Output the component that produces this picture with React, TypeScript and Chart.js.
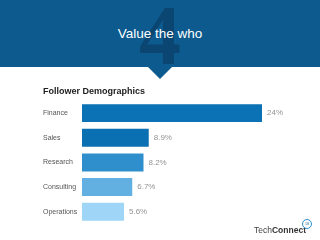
import React, { useEffect, useRef } from "react";
import { Chart, registerables } from "chart.js";

Chart.register(...registerables);

const categories = ["Finance", "Sales", "Research", "Consulting", "Operations"];
const values = [24, 8.9, 8.2, 6.7, 5.6];
const valueLabels = ["24%", "8.9%", "8.2%", "6.7%", "5.6%"];
const barColors = ["#0a72b5", "#0a70b2", "#2f8fcc", "#62b0e2", "#9fd5f6"];

const FONT = "'Liberation Sans', Arial, sans-serif";

const valueLabelPlugin = {
  id: "valueLabels",
  afterDatasetsDraw(chart: any) {
    const ctx = chart.ctx;
    const meta = chart.getDatasetMeta(0);
    ctx.save();
    ctx.font = `8px ${FONT}`;
    ctx.fillStyle = "#939393";
    ctx.textAlign = "left";
    ctx.textBaseline = "middle";
    meta.data.forEach((bar: any, i: number) => {
      ctx.fillText(valueLabels[i], bar.x + 5, bar.y);
    });
    ctx.restore();
  },
};

function BarChart() {
  const ref = useRef<HTMLCanvasElement | null>(null);
  useEffect(() => {
    if (!ref.current) return;
    const chart = new Chart(ref.current, {
      type: "bar",
      data: {
        labels: categories,
        datasets: [
          {
            data: values,
            backgroundColor: barColors,
            borderWidth: 0,
            categoryPercentage: 1,
            barPercentage: 0.73,
          },
        ],
      },
      options: {
        indexAxis: "y",
        animation: false,
        responsive: false,
        maintainAspectRatio: false,
        layout: { padding: { left: 43, right: 13, top: 0, bottom: 16 } },
        plugins: {
          legend: { display: false },
          tooltip: { enabled: false },
          title: {
            display: true,
            text: "Follower Demographics",
            align: "start",
            color: "#222222",
            font: { family: FONT, size: 9, weight: "bold" },
            padding: { top: 6, bottom: 4 },
          },
        },
        scales: {
          x: { display: false, min: 0, max: 30 },
          y: {
            grid: { display: false },
            border: { display: false },
            ticks: {
              crossAlign: "far",
              color: "#555555",
              font: { family: FONT, size: 7 },
            },
            afterFit(scale: any) {
              scale.width = 39;
            },
          },
        },
      },
      plugins: [valueLabelPlugin],
    });
    return () => chart.destroy();
  }, []);
  return (
    <canvas
      ref={ref}
      width={320}
      height={160}
      style={{ position: "absolute", left: 0, top: 80, width: 320, height: 160 }}
    />
  );
}

export default function App() {
  return (
    <div
      style={{
        position: "absolute",
        left: 0,
        top: 0,
        width: 320,
        height: 240,
        background: "#ffffff",
        overflow: "hidden",
        fontFamily: FONT,
      }}
    >
      <div
        style={{
          position: "absolute",
          left: 0,
          top: 0,
          width: 320,
          height: 67,
          background: "#0c5a8e",
        }}
      />
      <div
        style={{
          position: "absolute",
          left: 148,
          top: 67,
          width: 0,
          height: 0,
          borderLeft: "12px solid transparent",
          borderRight: "12px solid transparent",
          borderTop: "12px solid #0c5a8e",
        }}
      />
      <div
        style={{
          position: "absolute",
          left: 110,
          width: 100,
          top: -6,
          textAlign: "center",
          fontFamily: "'Liberation Serif', 'Times New Roman', serif",
          fontSize: 84,
          lineHeight: "84px",
          fontWeight: "bold",
          color: "#0b4672",
        }}
      >
        4
      </div>
      <div
        style={{
          position: "absolute",
          left: 0,
          width: 320,
          top: 26,
          textAlign: "center",
          fontSize: 13.5,
          lineHeight: "16px",
          color: "#ffffff",
        }}
      >
        Value the who
      </div>
      <BarChart />
      <div
        style={{
          position: "absolute",
          left: 254,
          top: 225,
          fontSize: 8.5,
          lineHeight: "10px",
          color: "#444444",
          whiteSpace: "nowrap",
        }}
      >
        Tech<span style={{ fontWeight: "bold", color: "#333333" }}>Connect</span>
      </div>
      <div
        style={{
          position: "absolute",
          left: 302,
          top: 219,
          width: 8,
          height: 8,
          borderRadius: 5,
          border: "1px solid #2a8fd0",
          fontSize: 3.5,
          lineHeight: "8px",
          textAlign: "center",
          color: "#0c5a8e",
          background: "#ffffff",
        }}
      >
        18
      </div>
    </div>
  );
}
